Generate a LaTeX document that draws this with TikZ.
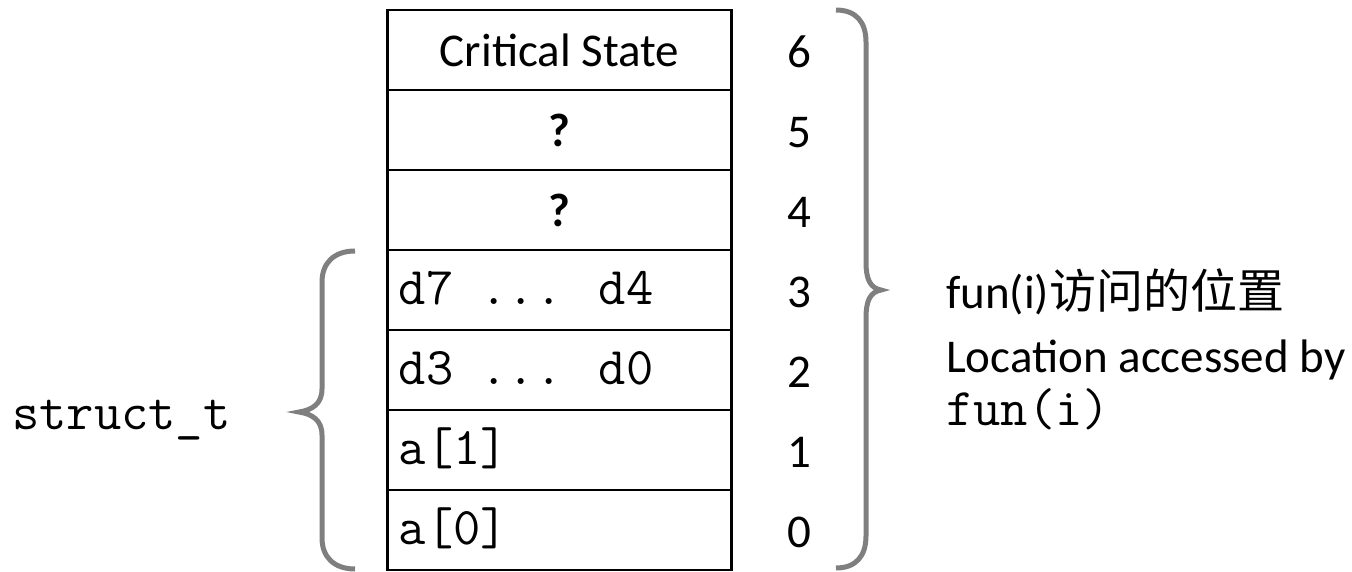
\documentclass[tikz,border=0pt]{standalone}
\usepackage{fontspec}
\setmainfont{Carlito}
\newfontfamily\cjkfont{Noto Sans CJK SC}
\definecolor{bracegray}{HTML}{7F7F7F}
\begin{document}
\begin{tikzpicture}[x=1pt,y=-1pt,
  cell/.style={draw=black,line width=2.5pt,minimum width=344pt,minimum height=80pt,inner sep=0pt,outer sep=0pt},
  txt/.style={font=\fontsize{47}{56}\selectfont,inner sep=0pt,anchor=base},
  qtxt/.style={font=\bfseries\fontsize{47}{56}\selectfont,inner sep=0pt,anchor=base},
  monotxt/.style={font=\ttfamily\fontsize{53}{60}\selectfont,inner sep=0pt,anchor=base west},
  bracestyle/.style={draw=bracegray,line width=5pt,line cap=butt}]
\useasboundingbox (0,0) rectangle (1352,571);
% cells
\foreach \i/\yc in {6/50,5/130,4/210,3/290,2/370,1/450,0/530}{
  \node[cell] (r\i) at (559.5,\yc) {};
}
% cell texts
\node[txt] (t6) at (r6.center) [yshift=-16pt] {Critical State};
\node[qtxt] (t5) at (r5.center) [yshift=-16pt] {?};
\node[qtxt] (t4) at (r4.center) [yshift=-16pt] {?};
\node[monotxt] (t3) at ([xshift=11pt,yshift=-14pt]r3.west) {d7 ... d4};
\node[monotxt] (t2) at ([xshift=11pt,yshift=-14pt]r2.west) {d3 ... d0};
\node[monotxt] (t1) at ([xshift=11pt,yshift=-14pt]r1.west) {a[1]};
\node[monotxt] (t0) at ([xshift=11pt,yshift=-14pt]r0.west) {a[0]};
% numbers
\foreach \i in {6,5,4,3,2,1,0}{
  \node[txt] (n\i) at ([xshift=240pt,yshift=-17pt]r\i.center) {\i};
}
% right brace
\coordinate (rbtop) at (836,10);
\coordinate (rbtip) at (881,290);
\coordinate (rbbot) at (836,568);
\draw[bracestyle] (rbtop) .. controls (856,10) and (866,22) .. (866,42)
  -- (866,262) .. controls (866,279) and (870,288) .. (rbtip)
  .. controls (870,292) and (866,301) .. (866,318)
  -- (866,536) .. controls (866,556) and (856,568) .. (rbbot);
% left brace
\coordinate (lbtop) at (355,251);
\coordinate (lbtip) at (299,412);
\coordinate (lbbot) at (355,569);
\draw[bracestyle] (lbtop) .. controls (334,251) and (322,263) .. (322,282)
  -- (322,389) .. controls (322,404) and (312,410) .. (lbtip)
  .. controls (312,414) and (322,420) .. (322,435)
  -- (322,538) .. controls (322,557) and (334,569) .. (lbbot);
% labels
\node[monotxt] (st) at (12,429) {struct\_t};
\node[txt,anchor=base west] (l1) at (946,308) {fun(i){\cjkfont 访问的位置}};
\node[txt,anchor=base west] (l2) at (946,372) {Location accessed by};
\node[monotxt] (l3) at (946,425) {fun(i)};
\end{tikzpicture}
\end{document}
